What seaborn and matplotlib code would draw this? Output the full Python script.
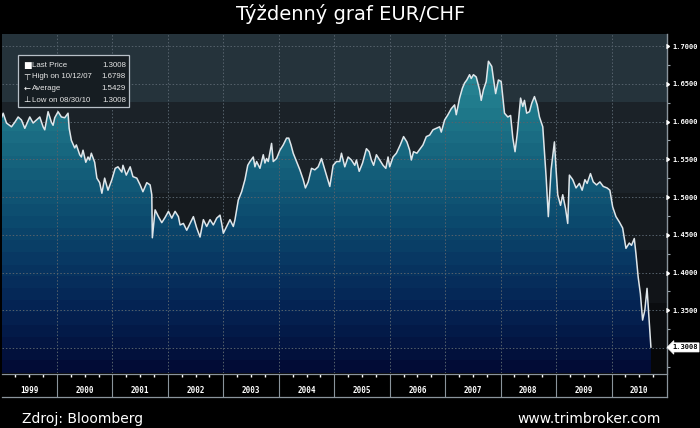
import numpy as np
import matplotlib
matplotlib.use("Agg")
import matplotlib.pyplot as plt
import seaborn as sns
import pandas as pd
from matplotlib.colors import LinearSegmentedColormap
from matplotlib.transforms import blended_transform_factory
from matplotlib.patches import Rectangle

# ---------------- data ----------------
years = [
    1999.00, 1999.03, 1999.09, 1999.18, 1999.24, 1999.30, 1999.36, 1999.42, 1999.51, 1999.57,
    1999.63, 1999.69, 1999.75, 1999.78, 1999.84, 1999.90, 1999.93, 1999.96, 2000.02, 2000.08,
    2000.14, 2000.20, 2000.22, 2000.26, 2000.32, 2000.35, 2000.41, 2000.44, 2000.47, 2000.52,
    2000.56, 2000.59, 2000.62, 2000.68, 2000.72, 2000.77, 2000.81, 2000.86, 2000.92, 2000.99,
    2001.05, 2001.10, 2001.17, 2001.19, 2001.25, 2001.32, 2001.37, 2001.44, 2001.50, 2001.55,
    2001.62, 2001.68, 2001.71, 2001.72, 2001.77, 2001.83, 2001.89, 2001.95, 2002.01, 2002.07,
    2002.13, 2002.19, 2002.22, 2002.28, 2002.34, 2002.40, 2002.46, 2002.52, 2002.58, 2002.64,
    2002.70, 2002.76, 2002.82, 2002.88, 2002.94, 2002.97, 2003.00, 2003.06, 2003.12, 2003.18,
    2003.21, 2003.27, 2003.33, 2003.39, 2003.44, 2003.48, 2003.54, 2003.57, 2003.60, 2003.66,
    2003.72, 2003.75, 2003.78, 2003.81, 2003.87, 2003.90, 2003.96, 2004.02, 2004.08, 2004.14,
    2004.18, 2004.22, 2004.26, 2004.32, 2004.38, 2004.44, 2004.48, 2004.53, 2004.59, 2004.65,
    2004.71, 2004.77, 2004.83, 2004.86, 2004.92, 2004.98, 2005.04, 2005.10, 2005.13, 2005.19,
    2005.25, 2005.31, 2005.37, 2005.40, 2005.45, 2005.51, 2005.58, 2005.63, 2005.67, 2005.71,
    2005.76, 2005.82, 2005.88, 2005.93, 2005.97, 2006.00, 2006.06, 2006.12, 2006.19, 2006.25,
    2006.31, 2006.36, 2006.39, 2006.43, 2006.49, 2006.55, 2006.60, 2006.66, 2006.72, 2006.78,
    2006.84, 2006.90, 2006.93, 2006.99, 2007.05, 2007.11, 2007.17, 2007.20, 2007.23, 2007.26,
    2007.31, 2007.35, 2007.39, 2007.44, 2007.47, 2007.51, 2007.56, 2007.62, 2007.65, 2007.69,
    2007.74, 2007.78, 2007.84, 2007.87, 2007.91, 2007.96, 2008.01, 2008.07, 2008.13, 2008.18,
    2008.22, 2008.26, 2008.30, 2008.36, 2008.40, 2008.43, 2008.47, 2008.52, 2008.56, 2008.61,
    2008.66, 2008.70, 2008.76, 2008.82, 2008.86, 2008.91, 2008.97, 2009.00, 2009.03, 2009.08,
    2009.12, 2009.17, 2009.21, 2009.24, 2009.30, 2009.36, 2009.42, 2009.47, 2009.52, 2009.56,
    2009.62, 2009.67, 2009.73, 2009.79, 2009.85, 2009.92, 2009.97, 2010.02, 2010.08, 2010.14,
    2010.20, 2010.26, 2010.32, 2010.36, 2010.41, 2010.44, 2010.48, 2010.52, 2010.56, 2010.60,
    2010.64, 2010.68, 2010.71,
]
rates = [
    1.605, 1.611, 1.598, 1.593, 1.599, 1.606, 1.602, 1.591, 1.606, 1.598,
    1.602, 1.606, 1.593, 1.589, 1.613, 1.599, 1.595, 1.605, 1.613, 1.606,
    1.605, 1.611, 1.591, 1.575, 1.565, 1.569, 1.556, 1.553, 1.562, 1.546,
    1.553, 1.549, 1.558, 1.546, 1.525, 1.519, 1.505, 1.525, 1.509, 1.523,
    1.538, 1.540, 1.533, 1.542, 1.529, 1.540, 1.527, 1.525, 1.516, 1.507,
    1.519, 1.516, 1.503, 1.446, 1.483, 1.474, 1.466, 1.473, 1.481, 1.472,
    1.481, 1.474, 1.463, 1.465, 1.456, 1.465, 1.474, 1.459, 1.447, 1.470,
    1.461, 1.470, 1.463, 1.472, 1.476, 1.465, 1.452, 1.461, 1.470, 1.461,
    1.470, 1.496, 1.507, 1.523, 1.542, 1.547, 1.553, 1.540, 1.547, 1.538,
    1.556, 1.545, 1.551, 1.547, 1.571, 1.547, 1.551, 1.562, 1.569, 1.578,
    1.578, 1.569, 1.558, 1.547, 1.536, 1.523, 1.512, 1.520, 1.538, 1.536,
    1.540, 1.551, 1.536, 1.529, 1.514, 1.542, 1.547, 1.547, 1.558, 1.540,
    1.553, 1.549, 1.542, 1.549, 1.534, 1.545, 1.564, 1.560, 1.549, 1.542,
    1.556, 1.549, 1.542, 1.538, 1.553, 1.540, 1.553, 1.558, 1.569, 1.580,
    1.573, 1.562, 1.549, 1.560, 1.558, 1.564, 1.569, 1.580, 1.582, 1.589,
    1.591, 1.593, 1.586, 1.602, 1.609, 1.617, 1.622, 1.609, 1.620, 1.631,
    1.644, 1.651, 1.655, 1.662, 1.657, 1.662, 1.659, 1.642, 1.628, 1.642,
    1.653, 1.6798, 1.673, 1.657, 1.637, 1.655, 1.653, 1.611, 1.606, 1.608,
    1.578, 1.560, 1.584, 1.631, 1.620, 1.628, 1.611, 1.613, 1.624, 1.633,
    1.622, 1.606, 1.593, 1.527, 1.474, 1.536, 1.573, 1.536, 1.503, 1.489,
    1.503, 1.485, 1.465, 1.529, 1.523, 1.512, 1.518, 1.509, 1.523, 1.518,
    1.531, 1.520, 1.516, 1.520, 1.514, 1.512, 1.509, 1.487, 1.474, 1.467,
    1.459, 1.432, 1.439, 1.436, 1.445, 1.425, 1.394, 1.372, 1.337, 1.350,
    1.379, 1.333, 1.3008,
]
year_labels = ["1999", "2000", "2001", "2002", "2003", "2004",
               "2005", "2006", "2007", "2008", "2009", "2010"]
ytick_values = [1.35, 1.40, 1.45, 1.50, 1.55, 1.60, 1.65, 1.70]
minor_tick_values = [1.275, 1.325, 1.375, 1.425, 1.475, 1.525, 1.575, 1.625, 1.675]
last_price = 1.3008
legend_icons = ["\u25A0", "\u22A4", "\u2190", "\u22A5"]
legend_names = ["Last Price", "High on 10/12/07", "Average", "Low on 08/30/10"]
legend_values = ["1.3008", "1.6798", "1.5429", "1.3008"]
title = "Týždenný graf EUR/CHF"
source_text = "Zdroj: Bloomberg"
site_text = "www.trimbroker.com"

# ---------------- styling ----------------
sns.set_style("dark")
plt.rcParams["font.family"] = ["DejaVu Sans"]

W, H = 700, 428
fig = plt.figure(figsize=(7, 4.28), dpi=100, facecolor="black")

X0, X1 = 1999.0, 2011.0
Y0, Y1 = 1.2669, 1.7159

ax = fig.add_axes([1.5 / W, 55 / H, 665.5 / W, 339 / H])
ax.set_facecolor("#060708")

bands = [(1.626, Y1, "#25333b"), (1.505, 1.626, "#1b2228"), (1.43, 1.505, "#161b1f"),
         (1.36, 1.43, "#111418"), (1.30, 1.36, "#0b0d10"), (Y0, 1.30, "#060708")]
for lo, hi, c in bands:
    ax.axhspan(lo, hi, color=c, lw=0, zorder=0)

df = pd.DataFrame({"year": years, "rate": rates})

# gradient fill under the curve (banded, clipped to the area polygon)
poly = ax.fill_between(df["year"], df["rate"], Y0, color="none", lw=0, zorder=1)
cmap = LinearSegmentedColormap.from_list(
    "fx", [(0.0, "#020b34"), (0.08, "#031542"), (0.2, "#052454"), (0.32, "#083662"),
           (0.43, "#0b476c"), (0.55, "#115876"), (0.66, "#186880"), (0.77, "#1f788a"),
           (0.88, "#278694"), (1.0, "#2e929e")])
nrow = 400
vals = np.linspace(Y0, Y1, nrow)
step = 0.016
q = Y0 + np.floor((vals - Y0) / step) * step + step / 2
grad = np.clip((q - Y0) / (Y1 - Y0), 0, 1).reshape(-1, 1)
img = ax.imshow(grad, extent=[X0, X1, Y0, Y1], origin="lower", aspect="auto",
                cmap=cmap, vmin=0, vmax=1, interpolation="nearest", zorder=2)
img.set_clip_path(poly.get_paths()[0], transform=ax.transData)

# dotted grid
for yv in [1.30] + ytick_values:
    ax.axhline(yv, color="#56626c", lw=0.7, ls=(0, (1.5, 2)), zorder=3)
for yr in range(2000, 2011):
    ax.axvline(yr, color="#56626c", lw=0.7, ls=(0, (1.5, 2)), zorder=3)

sns.lineplot(data=df, x="year", y="rate", ax=ax, color="#dfe6ea", lw=1.1,
             estimator=None, errorbar=None, zorder=4)

ax.set_xlim(X0, X1)
ax.set_ylim(Y0, Y1)
ax.set_xlabel("")
ax.set_ylabel("")
ax.set_xticks([])
ax.grid(False)
ax.yaxis.tick_right()
ax.set_yticks(ytick_values)
ax.set_yticklabels([f"{v:.4f}" for v in ytick_values])
ax.set_yticks(minor_tick_values, minor=True)
ax.tick_params(axis="y", which="major", length=0, pad=4.2, labelcolor="white", labelsize=5.1)
ax.tick_params(axis="y", which="minor", length=2.5, width=0.8, color="#9aa4ac", direction="out")
for lab in ax.get_yticklabels():
    lab.set_fontfamily("DejaVu Sans Mono")
    lab.set_fontweight("bold")
for s in ["left", "top", "bottom"]:
    ax.spines[s].set_visible(False)
ax.spines["right"].set_color("#8a949c")
ax.spines["right"].set_linewidth(1.0)

tr = blended_transform_factory(ax.transAxes, ax.transData)
ax.plot([1.0035] * len(ytick_values), ytick_values, transform=tr, clip_on=False,
        ls="none", marker=5, ms=3.2, color="white", zorder=6)
ax.text(1.0075, last_price, "1.3008", transform=tr, ha="left", va="center",
        fontsize=5.1, fontweight="bold", family="DejaVu Sans Mono", color="black",
        bbox=dict(boxstyle="larrow,pad=0.22", fc="white", ec="white", lw=0.5),
        clip_on=False, zorder=7)

# bottom year strip
sx = fig.add_axes([1.5 / W, 31 / H, 665.5 / W, 23 / H])
sx.set_facecolor("black")
sx.set_xlim(X0, X1)
sx.set_ylim(0, 1)
for yr in range(2000, 2011):
    sx.axvline(yr, color="#8a949c", lw=0.8)
for i, lab in enumerate(year_labels):
    sx.text(1999 + i + 0.5, 0.3, lab, ha="center", va="center", color="white",
            fontsize=5.5, fontweight="bold", family="DejaVu Sans Mono")
quarters = [1999 + i + f for i in range(12) for f in (0.25, 0.5, 0.75)]
sx.set_xticks(quarters)
sx.set_yticks([])
sx.tick_params(axis="x", top=True, bottom=False, labeltop=False, labelbottom=False,
               direction="in", length=2, width=1, color="white")
sx.grid(False)
sx.spines["left"].set_visible(False)
for s in ["top", "right", "bottom"]:
    sx.spines[s].set_color("#8a949c")
    sx.spines[s].set_linewidth(0.9)

# legend box
fig.add_artist(Rectangle((18 / W, (H - 107) / H), 111 / W, 52 / H, transform=fig.transFigure,
                         fc="#161d22", ec="#b8c0c8", lw=0.9, zorder=5))
row_y = [65.5, 77, 88.5, 100]
for icon, name, val, ypx in zip(legend_icons, legend_names, legend_values, row_y):
    yy = (H - ypx) / H
    fig.text(27 / W, yy, icon, ha="center", va="center", color="white",
             fontsize=6.5 if icon == "\u25A0" else 6, zorder=6)
    fig.text(32 / W, yy, name, ha="left", va="center", color="#e6e6e6", fontsize=5.7,
             family="Liberation Sans", zorder=6)
    fig.text(126 / W, yy, val, ha="right", va="center", color="#e6e6e6", fontsize=5.7,
             family="Liberation Sans", zorder=6)

# title and footer
fig.text(351 / W, (H - 14) / H, title, ha="center", va="center", color="white", fontsize=14)
fig.text(22 / W, (H - 419) / H, source_text, ha="left", va="center", color="white", fontsize=10)
fig.text(661 / W, (H - 419) / H, site_text, ha="right", va="center", color="white", fontsize=10)

fig.savefig("out.png", dpi=100, facecolor="black")
